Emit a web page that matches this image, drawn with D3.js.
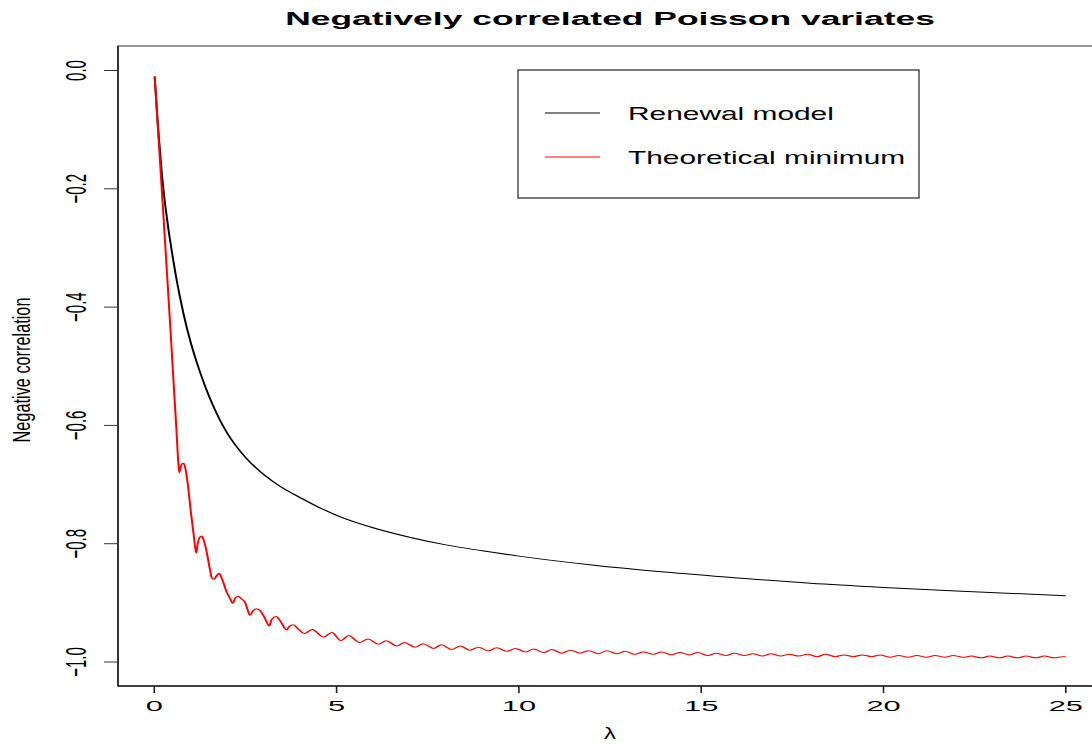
<!DOCTYPE html>
<html><head><meta charset="utf-8">
<script src="https://cdn.jsdelivr.net/npm/d3@7"></script>
<style>
body{margin:0;background:#fff}
svg{display:block}
text{font-family:"Liberation Sans",Arial,Helvetica,sans-serif;fill:#000}
</style>
</head><body>
<svg id="c" width="1092" height="744"></svg>
<script>
// ---------- data ----------
const titleText = "Negatively correlated Poisson variates";
const xLabel = "λ";
const yLabel = "Negative correlation";
const legendLabels = ["Renewal model", "Theoretical minimum"];
const seriesColors = ["#000000", "#ff0000"];
const xTicks = [0, 5, 10, 15, 20, 25];
const yTicks = [0, -0.2, -0.4, -0.6, -0.8, -1.0];

// Renewal model: [lambda, correlation]
const renewalModel = [
  [0.01,-0.010],[0.05,-0.048],[0.10,-0.094],[0.15,-0.132],[0.20,-0.170],
  [0.30,-0.228],[0.40,-0.274],[0.50,-0.313],[0.60,-0.350],[0.70,-0.382],
  [0.80,-0.411],[0.90,-0.437],[1.00,-0.460],[1.20,-0.500],[1.40,-0.535],
  [1.60,-0.565],[1.80,-0.591],[2.00,-0.613],[2.50,-0.654],[3.00,-0.683],
  [3.50,-0.705],[4.00,-0.722],[4.50,-0.738],[5.00,-0.752],[6.00,-0.773],
  [7.00,-0.789],[8.00,-0.802],[9.00,-0.812],[10.0,-0.821],[12.0,-0.836],
  [14.0,-0.848],[16.0,-0.858],[18.0,-0.867],[20.0,-0.874],[22.0,-0.880],
  [25.0,-0.888]
];

// Theoretical minimum: [lambda, correlation]
const theoreticalMin = [
  [0.01,-0.010],[0.25,-0.245],[0.45,-0.445],[0.60,-0.600],[0.69,-0.680],
  [0.72,-0.671],[0.76,-0.665],[0.80,-0.664],[0.85,-0.672],[0.92,-0.700],
  [1.00,-0.745],[1.08,-0.785],[1.15,-0.816],
  [1.19,-0.800],[1.25,-0.789],[1.30,-0.787],[1.36,-0.795],[1.44,-0.815],
  [1.52,-0.842],[1.58,-0.858],[1.64,-0.860],[1.70,-0.855],[1.78,-0.850],
  [1.86,-0.860],[1.98,-0.881],[2.08,-0.893],[2.15,-0.901],
  [2.22,-0.892],[2.30,-0.889],[2.40,-0.894],[2.49,-0.899],[2.56,-0.912],
  [2.62,-0.921],[2.70,-0.914],[2.80,-0.910],[2.90,-0.913],[2.99,-0.921],
  [3.08,-0.932],[3.15,-0.939],
  [3.22,-0.928],[3.34,-0.923],[3.48,-0.933],[3.63,-0.946],[3.70,-0.940],
  [3.81,-0.937],[3.96,-0.945],[4.12,-0.952],
  [4.33,-0.945],[4.64,-0.958],[4.87,-0.950],[5.12,-0.964],[5.33,-0.955],
  [5.63,-0.967],[5.86,-0.961],[6.14,-0.970],[6.36,-0.964],[6.65,-0.973],
  [6.86,-0.967],[7.15,-0.975],[7.37,-0.969],[7.66,-0.977],[7.87,-0.971],
  [8.16,-0.979],[8.39,-0.973],[8.66,-0.980],[8.89,-0.975],[9.16,-0.981],
  [9.39,-0.976],[9.68,-0.982],[9.90,-0.977],[10.18,-0.983],[10.40,-0.978],
  [10.68,-0.984],[10.90,-0.979],[11.18,-0.985],[11.41,-0.980],[11.68,-0.985],
  [11.91,-0.981],[12.18,-0.986],
  [12.41,-0.981],[12.68,-0.986],[12.91,-0.982],
  [13.18,-0.987],[13.41,-0.983],[13.68,-0.987],[13.91,-0.983],
  [14.18,-0.988],[14.41,-0.984],[14.68,-0.988],[14.91,-0.984],
  [15.18,-0.989],[15.41,-0.985],[15.68,-0.989],[15.91,-0.985],
  [16.18,-0.989],[16.41,-0.986],[16.68,-0.990],[16.91,-0.986],
  [17.18,-0.990],[17.41,-0.987],[17.68,-0.990],[17.91,-0.987],
  [18.18,-0.991],[18.41,-0.987],[18.68,-0.991],[18.91,-0.988],
  [19.18,-0.991],[19.41,-0.988],[19.68,-0.991],[19.91,-0.988],
  [20.18,-0.992],[20.41,-0.989],[20.68,-0.992],[20.91,-0.989],
  [21.18,-0.992],[21.41,-0.989],[21.68,-0.992],[21.91,-0.989],
  [22.18,-0.992],[22.41,-0.990],[22.68,-0.993],[22.91,-0.990],
  [23.18,-0.993],[23.41,-0.990],[23.68,-0.993],[23.91,-0.990],
  [24.18,-0.993],[24.41,-0.990],[24.68,-0.993],[24.91,-0.991],
  [25.00,-0.991]
];

// ---------- layout ----------
const SX = 2;                 // horizontal stretch of the reference picture
const box = {left:118, top:46, right:1100, bottom:686};
const xPix = [154.3, 1065.8];
const yPix = [662, 70.5];

const svg = d3.select("#c");

const x = d3.scaleLinear().domain([0,25]).range(xPix);
const xs = d3.scaleLinear().domain([0,25]).range([xPix[0]/SX, xPix[1]/SX]);
const y = d3.scaleLinear().domain([-1,0]).range(yPix);

// stretched group (mimics thicker vertical strokes)
const g = svg.append("g").attr("transform", `scale(${SX},1)`);

// plot frame
g.append("rect")
  .attr("x", box.left/SX).attr("y", box.top)
  .attr("width", (box.right-box.left)/SX).attr("height", box.bottom-box.top)
  .attr("fill","none").attr("stroke","#333").attr("stroke-width",1);
g.append("line")
  .attr("x1", box.left/SX).attr("x2", box.right/SX)
  .attr("y1", box.bottom).attr("y2", box.bottom)
  .attr("stroke","#222").attr("stroke-width",1.5);

// y ticks
g.selectAll(".yt").data(yTicks).enter().append("line")
  .attr("x1", (box.left-14)/SX).attr("x2", box.left/SX)
  .attr("y1", d=>y(d)).attr("y2", d=>y(d))
  .attr("stroke","#333").attr("stroke-width",1);
// x ticks
g.selectAll(".xt").data(xTicks).enter().append("line")
  .attr("x1", d=>xs(d)).attr("x2", d=>xs(d))
  .attr("y1", box.bottom).attr("y2", box.bottom+7)
  .attr("stroke","#222").attr("stroke-width",0.8);

// curves
const line = d3.line().x(d=>xs(d[0])).y(d=>y(d[1])).curve(d3.curveMonotoneX);
g.append("path").datum(renewalModel).attr("d", line)
  .attr("fill","none").attr("stroke", seriesColors[0]).attr("stroke-width",1);
g.append("path").datum(theoreticalMin).attr("d", line)
  .attr("fill","none").attr("stroke", seriesColors[1]).attr("stroke-width",1);

// y tick labels (rotated, stretched)
const fmt = d => (d < 0 ? "\u2212" : "") + Math.abs(d).toFixed(1);
svg.selectAll(".yl").data(yTicks).enter().append("text")
  .attr("transform", d=>`translate(86,${y(d)}) scale(2,1) rotate(-90)`)
  .attr("text-anchor","middle").attr("font-size",15)
  .text(fmt);

// x tick labels
svg.selectAll(".xl").data(xTicks).enter().append("text")
  .attr("transform", d=>`translate(${x(d)},711) scale(2.05,1)`)
  .attr("text-anchor","middle").attr("font-size",15)
  .text(d=>d);

// title
svg.append("text")
  .attr("transform","translate(610,25) scale(1.865,1)")
  .attr("text-anchor","middle").attr("font-size",19).attr("font-weight","bold")
  .text(titleText);

// axis labels
svg.append("text")
  .attr("transform","translate(610,739) scale(1.4,1)")
  .attr("text-anchor","middle").attr("font-size",17)
  .text(xLabel);
svg.append("text")
  .attr("transform","translate(29.5,370) scale(1.55,1) rotate(-90)")
  .attr("text-anchor","middle").attr("font-size",16)
  .attr("textLength",145).attr("lengthAdjust","spacingAndGlyphs")
  .text(yLabel);

// legend
const lg = svg.append("g");
lg.append("rect").attr("x",518).attr("y",70).attr("width",401).attr("height",128)
  .attr("fill","#fff").attr("stroke","#222").attr("stroke-width",1.2);
const legendY = [113, 157];
legendLabels.forEach((lab,i)=>{
  lg.append("line").attr("x1",545).attr("x2",600)
    .attr("y1",legendY[i]).attr("y2",legendY[i])
    .attr("stroke",seriesColors[i]).attr("stroke-width",1);
  lg.append("text")
    .attr("transform",`translate(628,${legendY[i]+6.5}) scale(1.66,1)`)
    .attr("font-size",18).text(lab);
});
</script>
</body></html>
